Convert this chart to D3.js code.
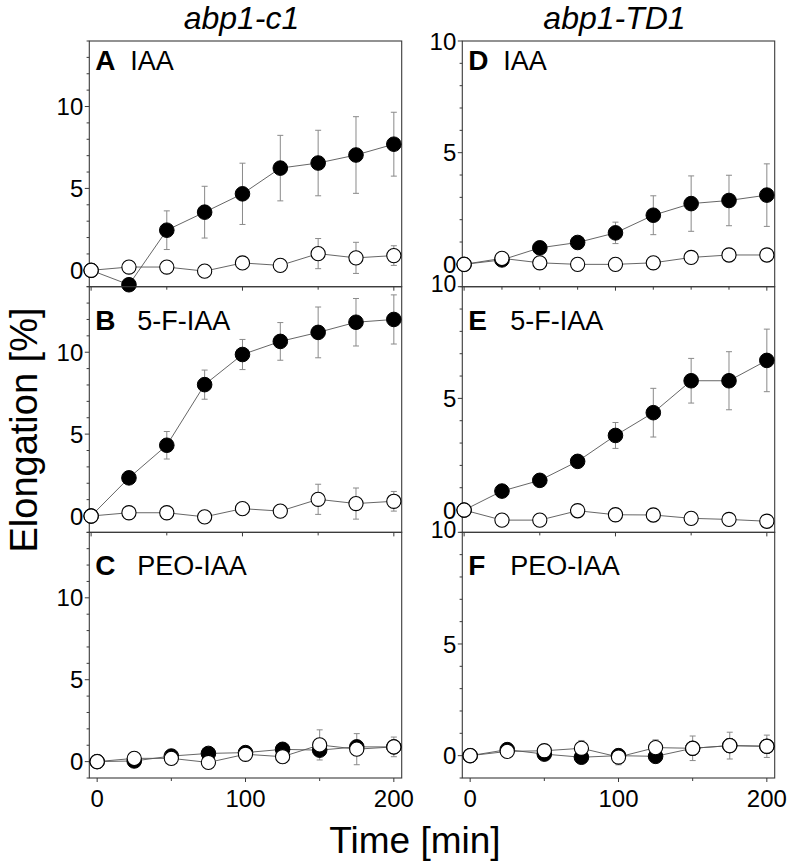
<!DOCTYPE html>
<html><head><meta charset="utf-8">
<script src="https://cdn.jsdelivr.net/npm/d3@7"></script>
<style>body{margin:0;background:#fff}svg{display:block}text{font-family:"Liberation Sans",Arial,sans-serif}</style>
</head><body>
<svg id="chart" width="789" height="864"></svg>
<script>
const times = [0,25,50,75,100,125,150,175,200];
const columnTitles = ["abp1-c1","abp1-TD1"];
const panelLetters = ["A","B","C","D","E","F"];
const treatments = ["IAA","5-F-IAA","PEO-IAA","IAA","5-F-IAA","PEO-IAA"];
const leftTicks = [0,5,10];
const rightTicks = [0,5,10];
const xTickLabels = [0,100,200];

// control (open circles), left column
const ctrlLeft    = [0,0.2,0.2,-0.05,0.45,0.3,1.02,0.76,0.9];
const ctrlLeftErr = [0,0.3,0.15,0.3,0.2,0.15,0.92,0.95,0.6];
// A IAA filled
const aFilled    = [0,-0.88,2.45,3.55,4.67,6.24,6.55,7.04,7.7];
const aFilledErr = [0,0.15,1.18,1.58,1.87,2.0,2.0,2.34,1.95];
// B 5-F-IAA filled
const bFilled    = [0,2.33,4.32,8.02,9.86,10.66,11.21,11.83,12.0];
const bFilledErr = [0,0.2,0.84,0.89,0.92,1.15,1.55,1.45,1.5];
// C PEO-IAA filled
const cFilled    = [0,0.04,0.34,0.5,0.55,0.75,0.7,0.9,0.9];
const cFilledErr = [0,0.1,0.1,0.15,0.15,0.2,0.25,0.3,0.3];
// D IAA
const dFilled    = [0,0.2,0.74,0.98,1.41,2.2,2.72,2.86,3.1];
const dFilledErr = [0,0.1,0.2,0.15,0.48,0.87,1.24,1.13,1.4];
const dOpen      = [0,0.27,0.07,0,0,0.07,0.31,0.42,0.42];
const dOpenErr   = [0,0.1,0.2,0.05,0.2,0.25,0.2,0.15,0.2];
// E 5-F-IAA
const eFilled    = [0,0.85,1.33,2.18,3.34,4.36,5.79,5.79,6.7];
const eFilledErr = [0,0.1,0.1,0.15,0.58,1.09,1.0,1.3,1.4];
const eOpen      = [0,-0.45,-0.45,-0.03,-0.21,-0.22,-0.37,-0.42,-0.5];
const eOpenErr   = [0,0.1,0.1,0.1,0.05,0.2,0.15,0.05,0.05];
// F PEO-IAA
const fFilled    = [0,0.27,0.07,-0.07,0,-0.03,0.33,0.45,0.42];
const fFilledErr = [0,0.1,0.2,0.2,0.2,0.15,0.2,0.3,0.3];
const fOpen      = [0,0.19,0.22,0.33,-0.06,0.36,0.33,0.45,0.42];
const fOpenErr   = [0,0.2,0.25,0.35,0.35,0.35,0.55,0.6,0.5];

const svg = d3.select("#chart");
const cols = [{x0:89.3,x1:401.7,ymax:14},{x0:462.3,x1:774.7,ymax:10}];
const tops = [41,286.7,532.3];
const ph = 245.7;

const panels = [
  {col:0,row:0,filled:aFilled,fErr:aFilledErr,open:ctrlLeft,oErr:ctrlLeftErr},
  {col:0,row:1,filled:bFilled,fErr:bFilledErr,open:ctrlLeft,oErr:ctrlLeftErr},
  {col:0,row:2,filled:cFilled,fErr:cFilledErr,open:ctrlLeft,oErr:ctrlLeftErr},
  {col:1,row:0,filled:dFilled,fErr:dFilledErr,open:dOpen,oErr:dOpenErr},
  {col:1,row:1,filled:eFilled,fErr:eFilledErr,open:eOpen,oErr:eOpenErr},
  {col:1,row:2,filled:fFilled,fErr:fFilledErr,open:fOpen,oErr:fOpenErr}
];
const axisColor = "#3a3a3a";

panels.forEach((p,i)=>{
  const c = cols[p.col];
  const top = tops[p.row], bot = top+ph;
  const xDom = p.row<2 ? [-1.2,205.2] : [-5.3,205.3];
  const x = d3.scaleLinear().domain(xDom).range([c.x0,c.x1]);
  const y = d3.scaleLinear().domain([-1,c.ymax]).range([bot,top]);
  const g = svg.append("g");

  // frame
  g.append("rect").attr("x",c.x0).attr("y",top).attr("width",c.x1-c.x0).attr("height",ph)
   .attr("fill","none").attr("stroke",axisColor).attr("stroke-width",1.1);

  // y ticks
  const majors = c.ymax===14?leftTicks:rightTicks;
  d3.range(-1,c.ymax+0.01,1).forEach(v=>{
    const maj = majors.includes(v);
    g.append("line").attr("x1",c.x0-(maj?4.5:2.7)).attr("x2",c.x0).attr("y1",y(v)).attr("y2",y(v))
     .attr("stroke",axisColor).attr("stroke-width",1);
  });
  majors.forEach(v=>{
    const shift = (v===c.ymax && p.row>0) ? -3 : 0;
    g.append("text").attr("x",c.x0-6).attr("y",y(v)+shift).attr("dy","0.36em").attr("text-anchor","end")
     .attr("font-size",v===c.ymax && p.row>0 ? 23 : 24).text(v);
  });

  // x ticks on bottom
  const xt = (p.col===1 && p.row===0) ? d3.range(0,201,25) : [0,50,100,150,200];
  xt.forEach(v=>{
    g.append("line").attr("x1",x(v)).attr("x2",x(v)).attr("y1",bot).attr("y2",bot+(v%100===0?4:3))
     .attr("stroke",axisColor).attr("stroke-width",1);
  });
  if(p.row===2){
    xTickLabels.forEach(v=>{
      g.append("text").attr("x",x(v)).attr("y",bot+29).attr("text-anchor","middle")
       .attr("font-size",24).text(v);
    });
  }

  // labels
  const ly = p.row===0 ? top+29 : top+43;
  const lx = c.x0+6;
  g.append("text").attr("x",lx).attr("y",ly).attr("font-size",28).attr("font-weight","bold").text(panelLetters[i]);
  g.append("text").attr("x",lx+(p.row===0?35:42)).attr("y",ly).attr("font-size",27).text(treatments[i]);

  const line = d3.line().x((d,j)=>x(times[j])).y(d=>y(d));
  const drawErr = (vals,errs)=>{
    vals.forEach((v,j)=>{
      const e = errs[j]; if(!e) return;
      const xx = x(times[j]);
      g.append("line").attr("x1",xx).attr("x2",xx).attr("y1",y(v-e)).attr("y2",y(v+e)).attr("stroke","#8a8a8a").attr("stroke-width",1);
      [v-e,v+e].forEach(w=>g.append("line").attr("x1",xx-3).attr("x2",xx+3).attr("y1",y(w)).attr("y2",y(w)).attr("stroke","#8a8a8a").attr("stroke-width",1));
    });
  };
  drawErr(p.filled,p.fErr);
  drawErr(p.open,p.oErr);
  g.append("path").datum(p.filled).attr("d",line).attr("fill","none").attr("stroke","#555").attr("stroke-width",0.9);
  g.append("path").datum(p.open).attr("d",line).attr("fill","none").attr("stroke","#555").attr("stroke-width",0.9);
  g.selectAll(null).data(p.filled).enter().append("circle")
    .attr("cx",(d,j)=>x(times[j])).attr("cy",d=>y(d)).attr("r",7.3).attr("fill","#000").attr("stroke","#000");
  g.selectAll(null).data(p.open).enter().append("circle")
    .attr("cx",(d,j)=>x(times[j])).attr("cy",d=>y(d)).attr("r",7.1).attr("fill","#fff").attr("stroke","#000").attr("stroke-width",1.1);
});

// column titles
cols.forEach((c,i)=>{
  svg.append("text").attr("x",(c.x0+c.x1)/2-4).attr("y",29).attr("text-anchor","middle")
    .attr("font-size",32).attr("font-style","italic").text(columnTitles[i]);
});
// axis titles
svg.append("text").attr("x",415).attr("y",853).attr("text-anchor","middle").attr("font-size",37).text("Time [min]");
svg.append("text").attr("transform","translate(37,430) rotate(-90)").attr("text-anchor","middle").attr("font-size",38).text("Elongation [%]");
</script>
</body></html>
